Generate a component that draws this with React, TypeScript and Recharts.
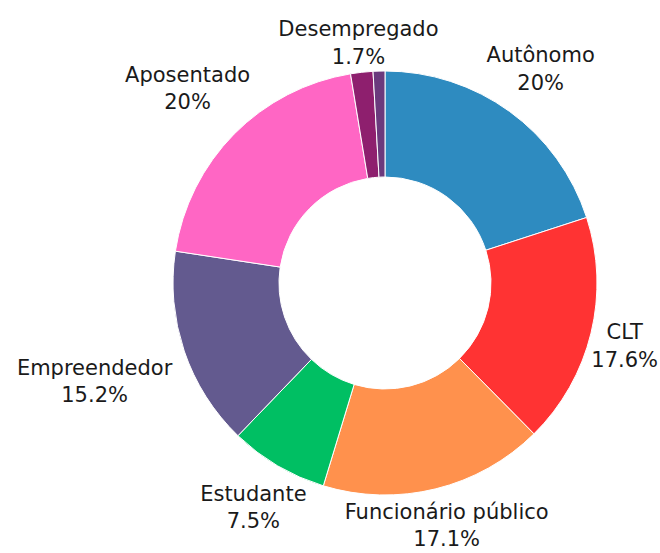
import React from 'react';
import { PieChart, Pie, Cell } from 'recharts';

const categories = ['Autônomo', 'CLT', 'Funcionário público', 'Estudante', 'Empreendedor', 'Aposentado', 'Desempregado', 'Outro'];
const shares = [20, 17.6, 17.1, 7.5, 15.2, 20, 1.7, 0.9];
const colors = ['#2E8BC0', '#FF3333', '#FF914D', '#00BF63', '#635A8F', '#FF66C4', '#8E1F6E', '#6B3A7D'];

const data = categories.map((name, i) => ({ name, value: shares[i] }));

const W = 660;
const H = 553;
const FONT = '21px "DejaVu Sans"';
const RADIAN = Math.PI / 180;

let ctx: CanvasRenderingContext2D | null = null;
const measure = (s: string) => {
  if (!ctx) ctx = document.createElement('canvas').getContext('2d');
  if (!ctx) return s.length * 12;
  ctx.font = FONT;
  return ctx.measureText(s).width;
};

const fmt = (v: number) => `${v}%`;

// labels sit outside the ring, pushed out by half their width on the sides
const renderLabel = (props: any) => {
  const { cx, cy, midAngle, outerRadius, name, value } = props;
  if (value < 1) return null;
  const dx = Math.cos(-midAngle * RADIAN);
  const dy = Math.sin(-midAngle * RADIAN);
  const w = Math.max(measure(name), measure(fmt(value)));
  const r = outerRadius + 21 + Math.abs(dx) * w / 2;
  let x = cx + r * dx;
  let y = cy + r * dy;
  x = Math.min(Math.max(x, w / 2 + 2), W - w / 2 - 2);
  y = Math.min(y, H - 28);
  return (
    <text x={x} y={y} textAnchor="middle" fill="#1a1a1a" style={{ font: FONT }}>
      <tspan x={x} y={y - 6.5}>{name}</tspan>
      <tspan x={x} y={y + 21}>{fmt(value)}</tspan>
    </text>
  );
};

const App = () => {
  return (
    <div style={{ position: 'absolute', left: 0, top: 0 }}>
      <PieChart width={W} height={H} margin={{ top: 0, right: 0, bottom: 0, left: 0 }}>
        <Pie
          data={data}
          dataKey="value"
          nameKey="name"
          cx={385}
          cy={283}
          innerRadius={106}
          outerRadius={212}
          startAngle={90}
          endAngle={-270}
          stroke="#fff"
          strokeWidth={1}
          label={renderLabel}
          labelLine={false}
          isAnimationActive={false}
        >
          {data.map((d, i) => (
            <Cell key={d.name} fill={colors[i]} />
          ))}
        </Pie>
      </PieChart>
    </div>
  );
};

export default App;
